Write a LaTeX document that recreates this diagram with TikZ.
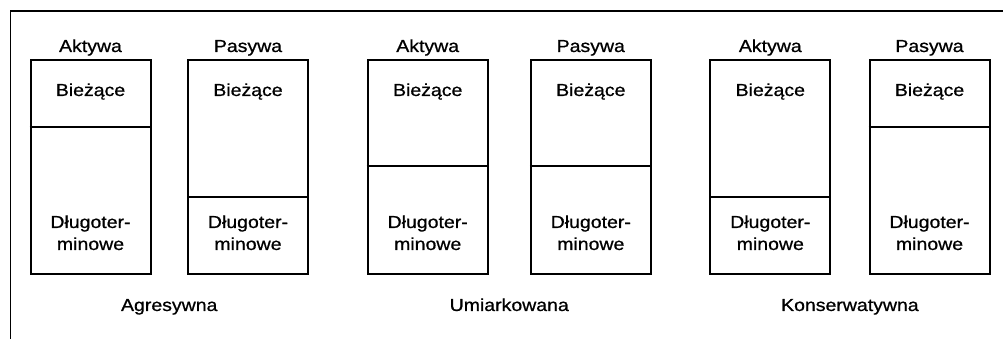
\documentclass[tikz,border=0pt]{standalone}
\usepackage{fontspec}
\setmainfont{Liberation Sans}[FakeStretch=1.12, FakeBold=0.8]
\usetikzlibrary{calc}
\begin{document}
\begin{tikzpicture}[x=1pt,y=1pt,
  colbox/.style={draw, line width=2pt, minimum width=120pt, minimum height=214pt,
                 anchor=north, inner sep=0pt},
  divider/.style={line width=1.8pt},
  frameline/.style={line width=1.8pt},
  txt/.style={anchor=base, inner sep=0pt, align=center,
              font=\fontsize{17.4}{22}\selectfont}]
\useasboundingbox (0,0) rectangle (1003,339);

% open frame: left and top edges
\coordinate (fbl) at (10.5,0);
\coordinate (ftl) at (10.5,328);
\coordinate (ftr) at (1003,328);
\draw[frameline] (fbl) -- (ftl) -- (ftr);

% columns: name / centre x / divider height / heading
\foreach \n/\x/\d/\h in {a1/90.5/212/Aktywa, p1/248/142/Pasywa,
                         a2/427.7/173.3/Aktywa, p2/590.8/173.3/Pasywa,
                         a3/770.3/142/Aktywa, p3/929.5/212/Pasywa}{
  \node[colbox] (\n) at (\x,279.7) {};
  \coordinate (\n-dl) at (\n.west |- 0,\d);
  \coordinate (\n-dr) at (\n.east |- 0,\d);
  \draw[divider] (\n-dl) -- (\n-dr);
  \node[txt] (\n-head) at (\x,287) {\h};
  \node[txt] (\n-cur) at (\x,243) {Bieżące};
  % base anchor of a two-line node sits on its last line
  \node[txt] (\n-long) at (\x,89) {Długoter-\\minowe};
}

% strategy captions, centred under each pair of columns
\coordinate (m1) at ($(a1.south)!0.5!(p1.south)$);
\coordinate (m2) at ($(a2.south)!0.5!(p2.south)$);
\coordinate (m3) at ($(a3.south)!0.5!(p3.south)$);
\node[txt] (agr) at (m1 |- 0,28) {Agresywna};
\node[txt] (umi) at (m2 |- 0,28) {Umiarkowana};
\node[txt] (kon) at (m3 |- 0,28) {Konserwatywna};
\end{tikzpicture}
\end{document}
